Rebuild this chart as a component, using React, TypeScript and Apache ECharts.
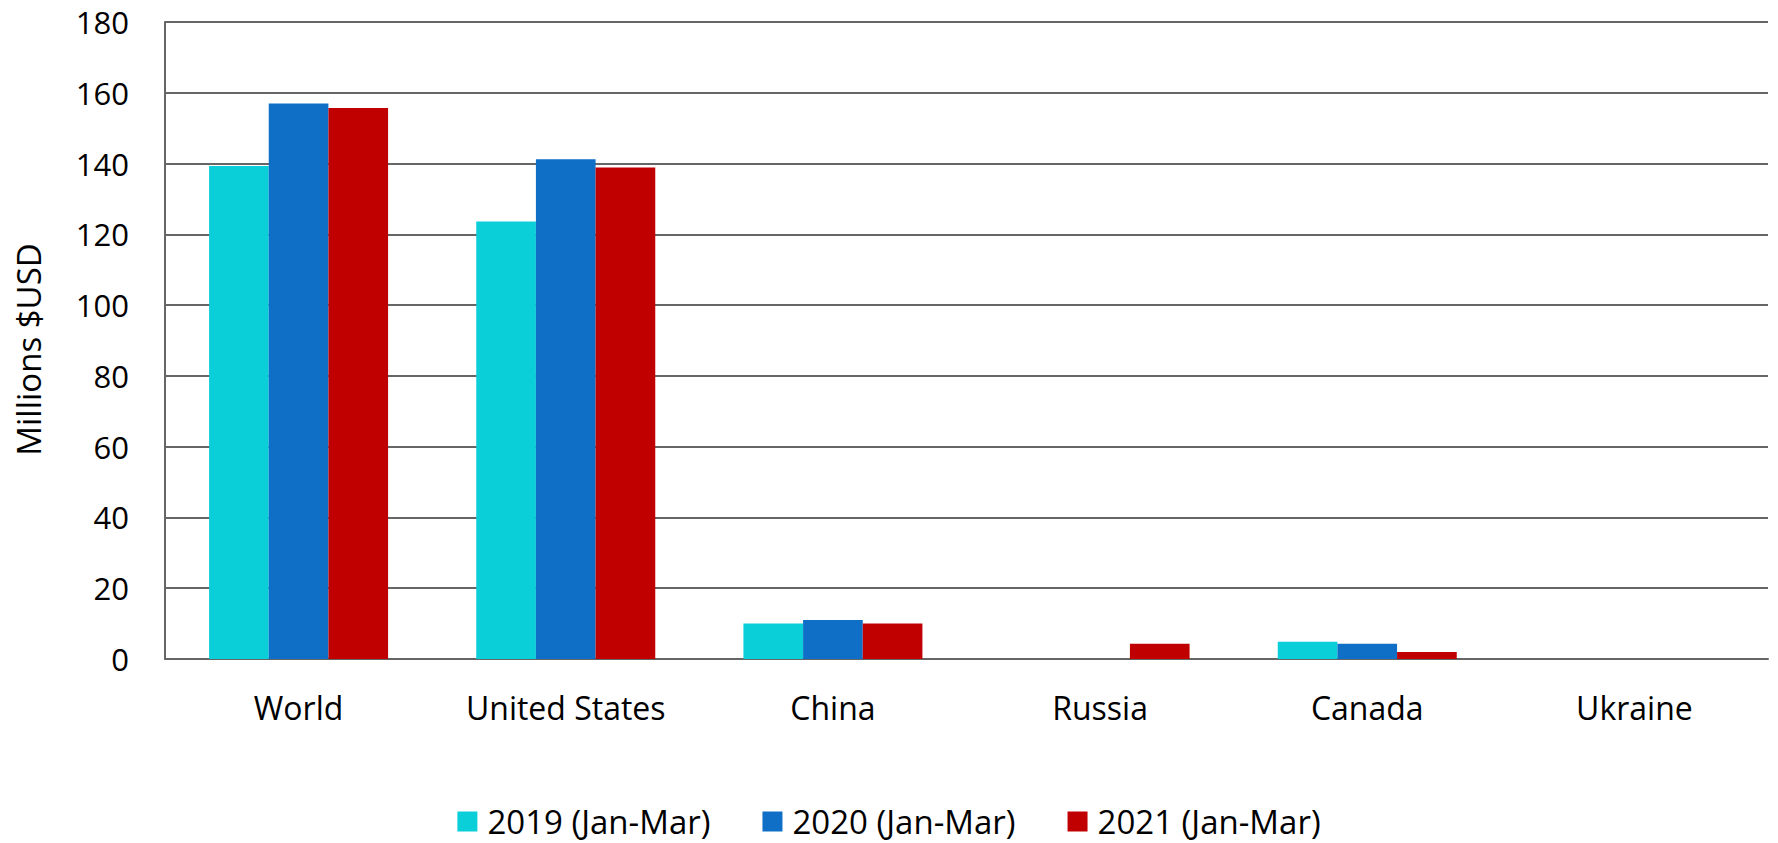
import React, { useEffect, useRef } from "react";
import * as echarts from "echarts";

const categories = ["World", "United States", "China", "Russia", "Canada", "Ukraine"];
const seriesNames = ["2019 (Jan-Mar)", "2020 (Jan-Mar)", "2021 (Jan-Mar)"];
const values2019 = [139.3, 123.6, 10.0, 0, 4.9, 0];
const values2020 = [157.0, 141.2, 11.0, 0, 4.3, 0];
const values2021 = [155.7, 138.9, 10.0, 4.3, 2.0, 0];
const colors = ["#0ACFD9", "#0F6FC6", "#C00000"];
const yTicks = { min: 0, max: 180, interval: 20 };

const FONT = "Open Sans";

export default function App() {
  const ref = useRef<HTMLDivElement>(null);
  useEffect(() => {
    if (!ref.current) return;
    const chart = echarts.init(ref.current, null, { renderer: "svg" });
    const data = [values2019, values2020, values2021];
    chart.setOption({
      animation: false,
      textStyle: { fontFamily: FONT },
      grid: { left: 165, right: 10, top: 22, bottom: 184, containLabel: false },
      legend: {
        top: 805,
        left: "center",
        padding: 0,
        itemWidth: 20,
        itemHeight: 20,
        itemGap: 52,
        icon: "rect",
        textStyle: { fontFamily: FONT, fontSize: 33, color: "#000", padding: [0, 0, 0, 5] },
        data: seriesNames,
      },
      xAxis: {
        type: "category",
        data: categories,
        axisLine: { show: true, lineStyle: { color: "#666", width: 2 } },
        axisTick: { show: false },
        axisLabel: { fontFamily: FONT, fontSize: 32, color: "#000", margin: 32 },
      },
      yAxis: {
        type: "value",
        min: yTicks.min,
        max: yTicks.max,
        interval: yTicks.interval,
        name: "Millions $USD",
        nameLocation: "middle",
        nameGap: 120,
        nameTextStyle: { fontFamily: FONT, fontSize: 33, color: "#000", padding: [0, 18, 0, 0] },
        axisLine: { show: true, lineStyle: { color: "#666", width: 2 } },
        axisTick: { show: false },
        splitLine: { show: true, lineStyle: { color: "#666", width: 2 } },
        axisLabel: { fontFamily: FONT, fontSize: 31, color: "#000", margin: 36 },
      },
      series: seriesNames.map((name, i) => ({
        name,
        type: "bar",
        data: data[i],
        barGap: "0%",
        barCategoryGap: "33%",
        itemStyle: { color: colors[i] },
      })),
    });
    return () => chart.dispose();
  }, []);
  return (
    <div
      ref={ref}
      style={{ position: "fixed", left: 0, top: 0, width: 1778, height: 843, background: "#fff" }}
    />
  );
}
